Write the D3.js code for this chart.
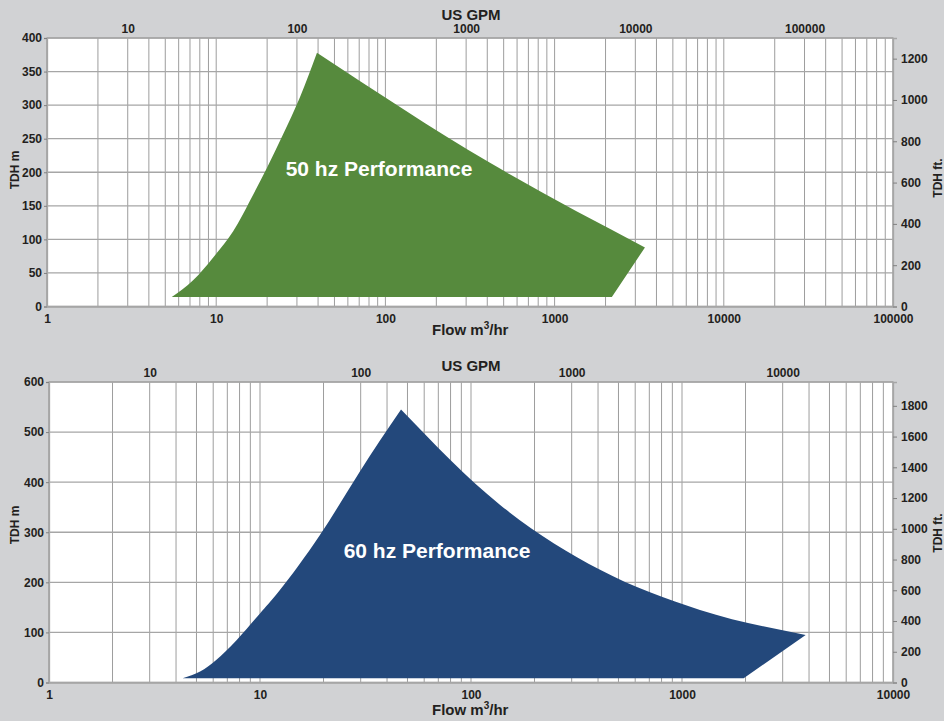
<!DOCTYPE html>
<html>
<head>
<meta charset="utf-8">
<script src="https://cdn.jsdelivr.net/npm/d3@7"></script>
<style>
  body { margin: 0; background: #d1d2d4; }
  svg { display: block; font-family: "Liberation Sans", Arial, sans-serif; }
  .tick text { font-size: 12px; font-weight: bold; fill: #231f20; }
  .title { font-size: 15px; font-weight: bold; fill: #231f20; }
</style>
</head>
<body>
<div id="chart"></div>
<script>
// tick labels
const flowTicks50 = [1, 10, 100, 1000, 10000, 100000];
const flowTicks60 = [1, 10, 100, 1000, 10000];
const gpmTicks50 = [10, 100, 1000, 10000, 100000];
const gpmTicks60 = [10, 100, 1000, 10000];
const headTicks50 = [0, 50, 100, 150, 200, 250, 300, 350, 400];
const headTicks60 = [0, 100, 200, 300, 400, 500, 600];
const feetTicks50 = [0, 200, 400, 600, 800, 1000, 1200];
const feetTicks60 = [0, 200, 400, 600, 800, 1000, 1200, 1400, 1600, 1800];

// 50 hz envelope (flow m3/hr, head m)
const hz50LeftFlow = [5.46, 7.3, 9.6, 12.6, 15.8, 19.9, 24.9, 31.3, 39.4];
const hz50LeftHead = [14, 39, 73, 112, 157, 206, 257, 312, 378];
const hz50TopFlow = [39.4, 415, 3420];
const hz50TopHead = [378, 214, 88];
const hz50EndFlow = [2180];
const hz50EndHead = [14];

// 60 hz envelope
const hz60LeftFlow = [4.3, 5.2, 6.2, 7.76, 10, 12.4, 19.2, 29.8, 46.6];
const hz60LeftHead = [8.5, 22, 45, 85, 138, 184, 294, 422, 545];
const hz60TopFlow = [46.6, 137, 409, 1217, 3856];
const hz60TopHead = [545, 355, 225, 145, 95];
const hz60EndFlow = [1960];
const hz60EndHead = [8.5];

const width = 944, height = 721;
const svg = d3.select("#chart").append("svg")
  .attr("width", width).attr("height", height);

svg.append("rect").attr("width", width).attr("height", height).attr("fill", "#d1d2d4");

function zip(a, b) { return a.map((v, i) => [v, b[i]]); }

function drawChart(cfg) {
  const x = d3.scaleLog().domain(cfg.flowDomain).range([cfg.left, cfg.right]);
  // top axis labels sit 10/3 apart from the m3/hr grid on the original
  const xg = d3.scaleLog().domain(cfg.flowDomain.map(d => d * 10 / 3)).range([cfg.left, cfg.right]);
  const y = d3.scaleLinear().domain([0, cfg.headMax]).range([cfg.bottom, cfg.top]);
  const yR = d3.scaleLinear().domain([0, cfg.feetMax]).range([cfg.bottom, cfg.top]);

  const g = svg.append("g");

  g.append("rect")
    .attr("x", cfg.left).attr("y", cfg.top)
    .attr("width", cfg.right - cfg.left).attr("height", cfg.bottom - cfg.top)
    .attr("fill", "#fff");

  // grid
  g.append("g").selectAll("line").data(x.ticks())
    .join("line")
    .attr("x1", d => x(d)).attr("x2", d => x(d))
    .attr("y1", cfg.top).attr("y2", cfg.bottom)
    .attr("stroke", "#9d9d9d").attr("stroke-width", 1);
  g.append("g").selectAll("line").data(cfg.headTicks)
    .join("line")
    .attr("x1", cfg.left).attr("x2", cfg.right)
    .attr("y1", d => y(d)).attr("y2", d => y(d))
    .attr("stroke", "#a6a6a6").attr("stroke-width", 1.3);

  // envelope
  const line = d3.line().x(d => x(d[0])).y(d => y(d[1]));
  const smooth = d3.line().x(d => x(d[0])).y(d => y(d[1])).curve(d3.curveNatural);
  const curved = d3.line().x(d => x(d[0])).y(d => y(d[1])).curve(d3.curveMonotoneX);
  const path = smooth(cfg.leftEdge) + curved(cfg.topEdge).replace(/^M/, "L") +
    line(cfg.end).replace(/^M/, "L") + "Z";
  g.append("path").attr("d", path).attr("fill", cfg.color);

  g.append("text")
    .attr("x", cfg.labelX).attr("y", cfg.labelY)
    .attr("text-anchor", "middle")
    .attr("fill", "#fff").attr("font-size", 21).attr("font-weight", "bold")
    .text(cfg.label);

  // border
  g.append("rect")
    .attr("x", cfg.left).attr("y", cfg.top)
    .attr("width", cfg.right - cfg.left).attr("height", cfg.bottom - cfg.top)
    .attr("fill", "none").attr("stroke", "#a6a6a6").attr("stroke-width", 1.3);

  // axes
  const ax = g.append("g").attr("transform", `translate(0,${cfg.bottom})`)
    .call(d3.axisBottom(x).tickValues(cfg.flowTicks).tickFormat(d3.format("d")).tickSize(0).tickPadding(cfg.xPad));
  const at = g.append("g").attr("transform", `translate(0,${cfg.top})`)
    .call(d3.axisTop(xg).tickValues(cfg.gpmTicks).tickFormat(d3.format("d")).tickSize(0).tickPadding(5));
  const al = g.append("g").attr("transform", `translate(${cfg.left},0)`)
    .call(d3.axisLeft(y).tickValues(cfg.headTicks).tickSize(3).tickPadding(2));
  const ar = g.append("g").attr("transform", `translate(${cfg.right},0)`)
    .call(d3.axisRight(yR).tickValues(cfg.feetTicks).tickFormat(d3.format("d")).tickSize(4).tickPadding(4));
  [ax, at, al, ar].forEach(a => {
    a.select(".domain").attr("stroke", "#a6a6a6").attr("stroke-width", 1.3);
    a.selectAll(".tick line").attr("stroke", "#808080");
    a.attr("font-family", null).attr("font-size", null);
  });
  at.select(".domain").remove();

  g.append("text").attr("class", "title")
    .attr("x", 471).attr("y", cfg.gpmTitleY).attr("text-anchor", "middle")
    .text("US GPM");
  const ft = g.append("text").attr("class", "title")
    .attr("x", 432).attr("y", cfg.flowTitleY);
  ft.append("tspan").text("Flow m");
  ft.append("tspan").attr("font-size", 10).attr("dy", -6).text("3");
  ft.append("tspan").attr("dy", 6).text("/hr");

  g.append("text").attr("class", "title")
    .attr("transform", `translate(19,${cfg.tdhY}) rotate(-90)`)
    .attr("text-anchor", "middle").style("font-size", "12px")
    .text("TDH m");
  g.append("text").attr("class", "title")
    .attr("transform", `translate(942,${cfg.tdhY + 8}) rotate(-90)`)
    .attr("text-anchor", "middle").style("font-size", "12px")
    .text("TDH ft.");
}

drawChart({
  left: 47, right: 893, top: 38, bottom: 306.5,
  flowDomain: [1, 100000], headMax: 400, feetMax: 1300,
  flowTicks: flowTicks50, gpmTicks: gpmTicks50, headTicks: headTicks50, feetTicks: feetTicks50,
  leftEdge: zip(hz50LeftFlow, hz50LeftHead),
  topEdge: zip(hz50TopFlow, hz50TopHead),
  end: zip(hz50EndFlow, hz50EndHead),
  color: "#568a3d", label: "50 hz Performance", labelX: 379, labelY: 176,
  xPad: 8, gpmTitleY: 20, flowTitleY: 335, tdhY: 170
});

drawChart({
  left: 49, right: 893, top: 382, bottom: 682.5,
  flowDomain: [1, 10000], headMax: 600, feetMax: 1955,
  flowTicks: flowTicks60, gpmTicks: gpmTicks60, headTicks: headTicks60, feetTicks: feetTicks60,
  leftEdge: zip(hz60LeftFlow, hz60LeftHead),
  topEdge: zip(hz60TopFlow, hz60TopHead),
  end: zip(hz60EndFlow, hz60EndHead),
  color: "#23487b", label: "60 hz Performance", labelX: 437, labelY: 558,
  xPad: 8, gpmTitleY: 371, flowTitleY: 715, tdhY: 525
});
</script>
</body>
</html>
